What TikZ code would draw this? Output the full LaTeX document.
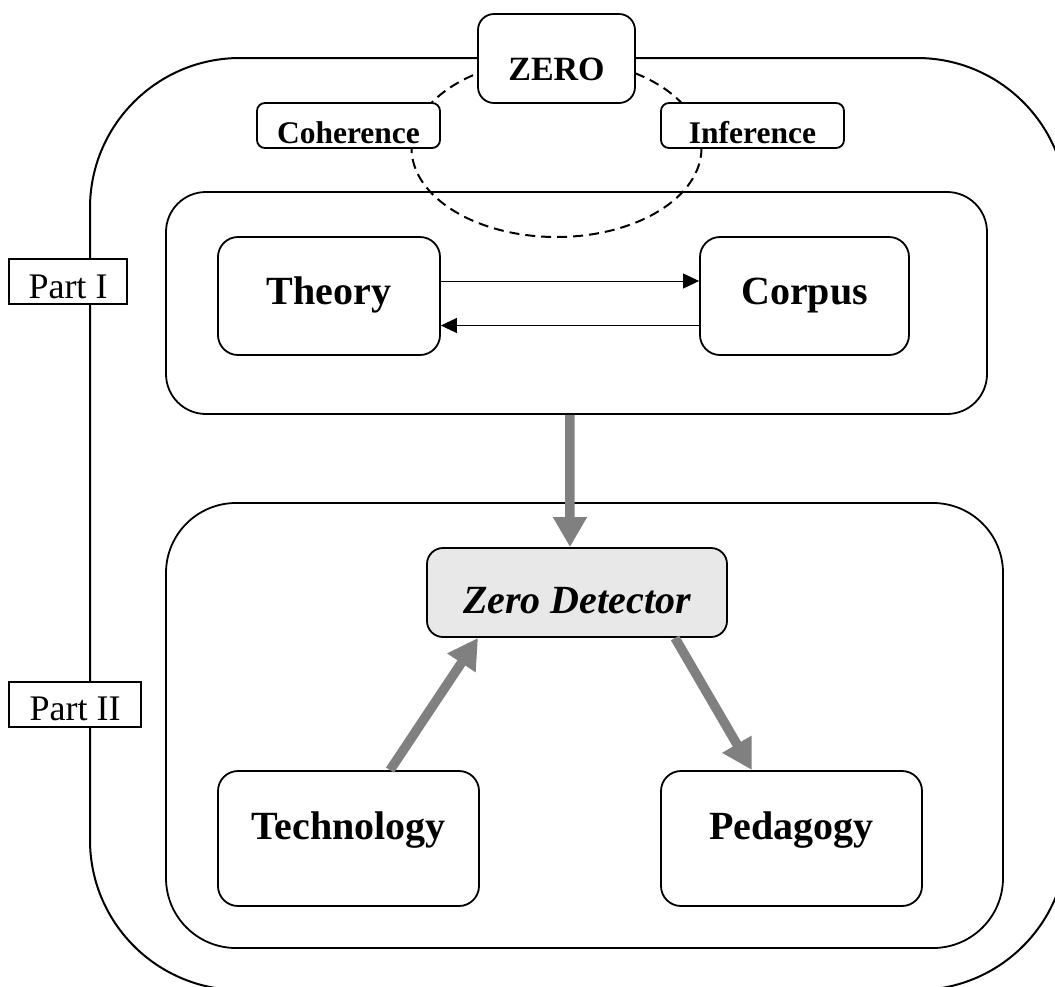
\documentclass[tikz,border=0pt]{standalone}
\usepackage{fontspec}
\setmainfont{Liberation Serif}
\usetikzlibrary{arrows.meta}
\definecolor{detfill}{RGB}{232,232,232}
\definecolor{flow}{RGB}{128,128,128}

\begin{document}
\begin{tikzpicture}[x=0.5pt,y=-0.5pt,
  frame/.style={draw, line width=1pt, inner sep=0pt},
  box/.style={draw, line width=0.9pt, fill=white, inner sep=0pt, minimum height=0pt, align=center},
  bigbox/.style={box, rounded corners=10pt, font=\fontsize{20}{24}\selectfont\bfseries,
                 minimum width=130.5pt, text height=34pt, text depth=33.5pt},
  topic/.style={box, rounded corners=4pt, font=\fontsize{15.75}{19}\selectfont\bfseries,
                minimum width=91.5pt, text height=20pt, text depth=2.5pt},
  partlabel/.style={box, rounded corners=0pt, line width=1pt, font=\fontsize{18}{21}\selectfont},
  ring/.style={line width=1pt, dash pattern=on 5pt off 3pt},
  link/.style={line width=0.5pt, -{Triangle[length=8pt,width=7.5pt]}},
  flowarrow/.style={draw=flow, line width=4.75pt, -{Triangle[length=15pt,width=16pt]}, color=flow}
]
\useasboundingbox (0,0) rectangle (1055,986);
\clip (0,0) rectangle (1055,986);

% outer frame enclosing both parts
\node[frame, rounded corners=75pt, minimum width=488.5pt, minimum height=466pt] (outer) at (578.5,524) {};

% dashed ring linking the three concepts
\draw[ring] (556.5,148) ellipse [x radius=72.5pt, y radius=44.5pt];

% part containers
\node[frame, line width=0.9pt, rounded corners=20pt, minimum width=410.5pt, minimum height=111pt] (partone) at (576.5,303) {};
\node[frame, line width=0.9pt, rounded corners=35pt, minimum width=418.5pt, minimum height=222.5pt] (parttwo) at (584.5,725.5) {};

% concept boxes on the ring
\node[box, rounded corners=8pt, font=\fontsize{17}{20}\selectfont\bfseries,
      minimum width=78.5pt, text height=33pt, text depth=11.5pt] (zero) at (556.5,58.5) {ZERO};
\node[topic] (coh) at (348.5,125.5) {Coherence};
\node[topic] (inf) at (752.5,125.5) {Inference};

% part labels
\node[partlabel, minimum width=59pt, text height=19.5pt, text depth=3pt] (lblone) at (68,281.5) {Part I};
\node[partlabel, minimum width=66pt, text height=19pt, text depth=3.5pt] (lbltwo) at (75,704.5) {Part II};

% Part I content
\node[bigbox, minimum width=111pt, text height=33.5pt, text depth=25.5pt] (theory) at (329,296) {Theory};
\node[bigbox, minimum width=104.5pt, text height=33.5pt, text depth=25.5pt] (corpus) at (804.5,296) {Corpus};

% Part II content
\node[box, fill=detfill, rounded corners=8pt, font=\fontsize{20}{24}\selectfont\bfseries\itshape,
      minimum width=150pt, text height=32.5pt, text depth=12pt] (zd) at (577,592.5) {Zero Detector};
\node[bigbox] (tech) at (348.5,838.5) {Technology};
\node[bigbox] (ped) at (791.5,838.5) {Pedagogy};

% connectors
\draw[link] ([yshift=7.5pt]theory.east) -- ([yshift=7.5pt]corpus.west);
\draw[link] ([yshift=-14.75pt]corpus.west) -- ([yshift=-14.75pt]theory.east);

\draw[flowarrow] ([xshift=-3.3pt]partone.south) -- ([xshift=-3.5pt]zd.north);
\draw[flowarrow] ([xshift=20.75pt]tech.north) -- ([xshift=-49.5pt]zd.south);
\draw[flowarrow] ([xshift=49pt]zd.south) -- ([xshift=-19.75pt]ped.north);
\end{tikzpicture}
\end{document}
